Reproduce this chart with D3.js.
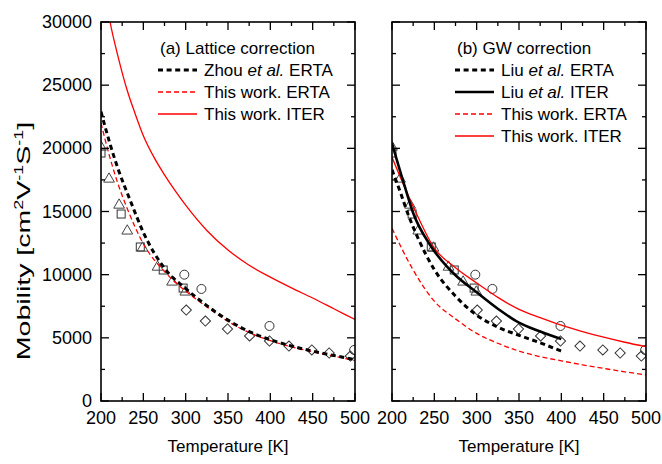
<!DOCTYPE html>
<html lang="en">
<head>
<meta charset="utf-8">
<title>Mobility vs temperature</title>
<script src="https://d3js.org/d3.v7.min.js"></script>
<style>
  body { margin: 0; background: #fff; }
  text { font-family: "Liberation Sans", Arial, sans-serif; fill: #000; }
</style>
</head>
<body>
<script>
// experimental points (same in both panels)
var squares   = [[200,19630],[223.8,14800],[246.4,12190],[273.5,10370],[297,8940]];
var triangles = [[200,20100],[209.5,17570],[221.4,15510],[231,13460],[249,12110],[266.8,10600],[284,9420],[299.6,8630]];
var circles   = [[298.4,10000],[318.6,8870],[399,5940],[499,4040]];
var diamonds  = [[300.7,7200],[323.3,6330],[349.4,5700],[375.5,5150],[399,4750],[422,4350],[449,4040],[469.5,3800],[494.5,3560]];

// (a) lattice correction
var zhouErta  = [[200,22900],[210,20500],[220,18400],[235,15800],[250,13350],[275,10500],[300,8900],[325,7550],[350,6400],[375,5500],[400,4850],[425,4350],[450,3950],[475,3600],[500,3280]];
var latErta   = [[200,22000],[210,19400],[220,17200],[230,15400],[250,12450],[275,10250],[300,8700],[325,7450],[350,6300],[375,5420],[400,4780],[425,4280],[450,3900],[475,3560],[500,3200]];
var latIter   = [[208,31000],[210.7,30000],[220,27300],[230,24800],[240,22800],[250,21000],[262.5,19300],[275,17900],[287.5,16650],[300,15500],[325,13500],[350,11950],[375,10750],[400,9800],[425,8950],[450,8150],[475,7300],[500,6450]];

// (b) GW correction
var liuErta   = [[200,18300],[210,16500],[220,14600],[230,13000],[250,10400],[275,8300],[300,6800],[325,5850],[350,5200],[375,4600],[400,3950]];
var liuIter   = [[200,20400],[215,17000],[225,14880],[245,12350],[265,10630],[275,9950],[300,8600],[325,7300],[350,6200],[375,5500],[400,4900]];
var gwErta    = [[200,13670],[225,10370],[250,7900],[275,6500],[300,5350],[325,4570],[350,3950],[375,3510],[400,3180],[425,2860],[450,2580],[475,2310],[500,2060]];
var gwIter    = [[200,19300],[225,15400],[250,12100],[275,10550],[300,9340],[325,8200],[350,7250],[375,6600],[400,6000],[425,5500],[450,5050],[475,4650],[500,4300]];

var xTicks = [200,250,300,350,400,450,500];
var yTicks = [0,5000,10000,15000,20000,25000,30000];

var W = 662, H = 464, plotTop = 22, plotBottom = 401;

var svg = d3.select("body").append("svg")
    .attr("width", W).attr("height", H);

var y = d3.scaleLinear().domain([0,30000]).range([plotBottom, plotTop]);

var styles = {
  blackDash: {stroke:"#000", width:3, dash:"5,3.6"},
  blackSolid: {stroke:"#000", width:2.6, dash:null},
  redDash: {stroke:"#ff0000", width:1.3, dash:"5,3"},
  redSolid: {stroke:"#ff0000", width:1.3, dash:null}
};

function panel(id, x0, x1, curves, legend, showY) {
  var x = d3.scaleLinear().domain([200,500]).range([x0, x1]);
  var g = svg.append("g");

  g.append("clipPath").attr("id", "clip" + id)
    .append("rect").attr("x", x0).attr("y", plotTop).attr("width", x1 - x0).attr("height", plotBottom - plotTop);

  var plot = g.append("g").attr("clip-path", "url(#clip" + id + ")");

  var line = d3.line()
      .x(function(d){ return x(d[0]); })
      .y(function(d){ return y(d[1]); })
      .curve(d3.curveMonotoneX);

  // markers
  var mk = plot.append("g").attr("fill", "none").attr("stroke", "#333").attr("stroke-width", 1);
  mk.selectAll(".sq").data(squares).enter().append("rect")
    .attr("x", function(d){ return x(d[0]) - 4; })
    .attr("y", function(d){ return y(d[1]) - 4; })
    .attr("width", 8).attr("height", 8);
  mk.selectAll(".tri").data(triangles).enter().append("path")
    .attr("stroke", "#444")
    .attr("d", d3.symbol().type(d3.symbolTriangle).size(50))
    .attr("transform", function(d){ return "translate(" + x(d[0]) + "," + y(d[1]) + ")"; });
  mk.selectAll(".ci").data(circles).enter().append("circle")
    .attr("cx", function(d){ return x(d[0]); })
    .attr("cy", function(d){ return y(d[1]); })
    .attr("r", 4.5);
  mk.selectAll(".di").data(diamonds).enter().append("path")
    .attr("d", d3.symbol().type(d3.symbolSquare).size(52))
    .attr("transform", function(d){ return "translate(" + x(d[0]) + "," + y(d[1]) + ") rotate(45)"; });

  curves.forEach(function(c){
    var s = styles[c.style];
    plot.append("path").datum(c.data)
      .attr("fill", "none")
      .attr("stroke", s.stroke)
      .attr("stroke-width", s.width)
      .attr("stroke-dasharray", s.dash)
      .attr("d", line);
  });

  // frame + ticks
  var xMinor = d3.range(200, 501, 25), yMinor = d3.range(0, 30001, 2500);
  var tk = g.append("g").attr("stroke", "#000").attr("stroke-width", 1.3);
  xMinor.forEach(function(t){
    var len = (t % 50 === 0) ? 8 : 4;
    tk.append("line").attr("x1", x(t)).attr("x2", x(t)).attr("y1", plotBottom).attr("y2", plotBottom - len);
    tk.append("line").attr("x1", x(t)).attr("x2", x(t)).attr("y1", plotTop).attr("y2", plotTop + len);
  });
  yMinor.forEach(function(t){
    var len = (t % 5000 === 0) ? 8 : 4;
    tk.append("line").attr("x1", x0).attr("x2", x0 + len).attr("y1", y(t)).attr("y2", y(t));
    tk.append("line").attr("x1", x1).attr("x2", x1 - len).attr("y1", y(t)).attr("y2", y(t));
  });
  g.append("rect").attr("x", x0).attr("y", plotTop).attr("width", x1 - x0).attr("height", plotBottom - plotTop)
    .attr("fill", "none").attr("stroke", "#000").attr("stroke-width", 1.6);

  g.selectAll(".xl").data(xTicks).enter().append("text")
    .attr("x", function(d){ return x(d); }).attr("y", plotBottom + 23)
    .attr("text-anchor", "middle").style("font-size", "18px")
    .text(function(d){ return d; });

  if (showY) {
    g.selectAll(".yl").data(yTicks).enter().append("text")
      .attr("x", x0 - 9).attr("y", function(d){ return y(d) + 6; })
      .attr("text-anchor", "end").style("font-size", "18px")
      .text(function(d){ return d; });
  }

  g.append("text").attr("x", (x0 + x1) / 2).attr("y", 452)
    .attr("text-anchor", "middle").style("font-size", "17px")
    .text("Temperature [K]");

  // legend
  var lg = g.append("g");
  lg.append("text").attr("x", legend.x + 2).attr("y", 54).style("font-size", "17px").text(legend.title);
  legend.rows.forEach(function(r, i){
    var ry = 70 + i * 22;
    var s = styles[r.style];
    lg.append("line").attr("x1", legend.x).attr("x2", legend.x + 39)
      .attr("y1", ry).attr("y2", ry)
      .attr("stroke", s.stroke).attr("stroke-width", s.width).attr("stroke-dasharray", s.dash);
    var t = lg.append("text").attr("x", legend.x + 46).attr("y", ry + 6).style("font-size", "17px");
    t.append("tspan").text(r.a);
    if (r.it) {
      t.append("tspan").style("font-style", "italic").text(r.it);
      t.append("tspan").text(r.b);
    }
  });
}

panel("a", 101, 355, [
  {data: latIter, style: "redSolid"},
  {data: latErta, style: "redDash"},
  {data: zhouErta, style: "blackDash"}
], {x: 158, title: "(a) Lattice correction", rows: [
  {style: "blackDash", a: "Zhou ", it: "et al.", b: " ERTA"},
  {style: "redDash", a: "This work. ERTA"},
  {style: "redSolid", a: "This work. ITER"}
]}, true);

panel("b", 392, 646, [
  {data: gwIter, style: "redSolid"},
  {data: gwErta, style: "redDash"},
  {data: liuErta, style: "blackDash"},
  {data: liuIter, style: "blackSolid"}
], {x: 455, title: "(b) GW correction", rows: [
  {style: "blackDash", a: "Liu ", it: "et al.", b: " ERTA"},
  {style: "blackSolid", a: "Liu ", it: "et al.", b: " ITER"},
  {style: "redDash", a: "This work. ERTA"},
  {style: "redSolid", a: "This work. ITER"}
]}, false);

// y axis title with superscripts (stretched along its length like the original)
var yt = svg.append("text")
    .attr("transform", "translate(30,241) rotate(-90) scale(1.5,1)")
    .attr("text-anchor", "middle").style("font-size", "19px");
yt.append("tspan").text("Mobility [cm");
yt.append("tspan").attr("dy", -7).style("font-size", "12px").text("2");
yt.append("tspan").attr("dy", 7).text("V");
yt.append("tspan").attr("dy", -7).style("font-size", "12px").text("-1");
yt.append("tspan").attr("dy", 7).text("S");
yt.append("tspan").attr("dy", -7).style("font-size", "12px").text("-1");
yt.append("tspan").attr("dy", 7).text("]");
</script>
</body>
</html>
